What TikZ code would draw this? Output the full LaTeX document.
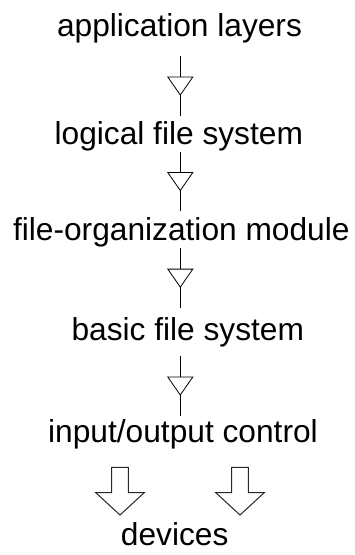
\documentclass[tikz,border=0pt]{standalone}
\usepackage{fontspec}
\setmainfont{Liberation Sans}
\usetikzlibrary{calc,decorations.markings}
\tikzset{
  lbl/.style={anchor=base, inner sep=0pt, font=\fontsize{31.7}{36}\selectfont},
  flow/.style={draw=black, line width=0.8pt,
    postaction={decorate, decoration={markings, mark=at position 0.5 with {
      \draw[black, line width=0.8pt, fill=white, line join=miter] (-9,-12.5) -- (-9,12.5) -- (9,0) -- cycle;}}}},
  blockarrow/.pic={\draw[black!85, line width=1pt, fill=white, line join=miter]
     (-8.3,0) -- (8.3,0) -- (8.3,25.4) -- (24.2,25.4) -- (0,47.7) -- (-24.2,25.4) -- (-8.3,25.4) -- cycle;}
}
\begin{document}
\begin{tikzpicture}[x=1pt,y=-1pt]
\useasboundingbox (0,0) rectangle (354,555);
\node[lbl] (app) at (179.5,36.7) {application layers};
\node[lbl] (lfs) at (178.8,144.3) {logical file system};
\node[lbl] (fom) at (181.3,240) {file-organization module};
\node[lbl] (bfs) at (187.8,340.7) {basic file system};
\node[lbl] (ioc) at (183,442.7) {input/output control};
\node[lbl] (dev) at (174.7,545) {devices};
\draw[flow] ($(app.base)+(0.8,19.3)$) -- ($(lfs.base)+(1.5,-28.3)$);
\draw[flow] ($(lfs.base)+(1.5,7.7)$) -- ($(fom.base)+(-1,-29)$);
\draw[flow] ($(fom.base)+(-1,8)$) -- ($(bfs.base)+(-7.5,-32.5)$);
\draw[flow] ($(bfs.base)+(-7.5,15.3)$) -- ($(ioc.base)+(-2.7,-26.7)$);
\coordinate (la) at ($(ioc.base)+(-63,24.6)$);
\coordinate (ra) at ($(ioc.base)+(57,24.6)$);
\pic at (la) {blockarrow};
\pic at (ra) {blockarrow};
\end{tikzpicture}
\end{document}
